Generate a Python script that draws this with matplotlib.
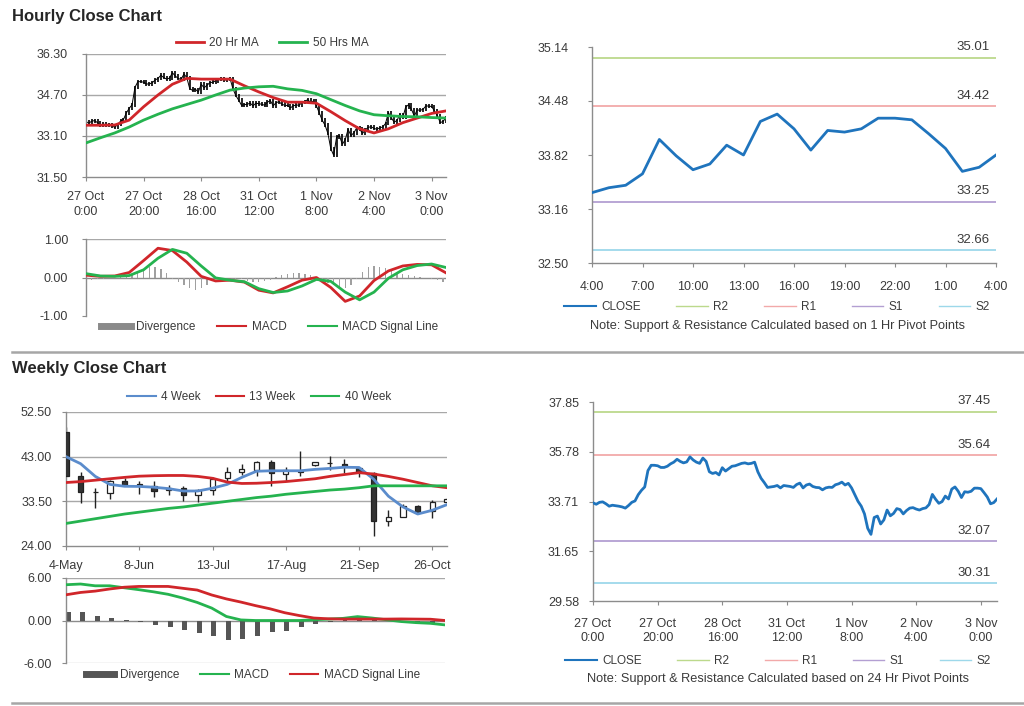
import numpy as np
import matplotlib
matplotlib.use("Agg")
import matplotlib.pyplot as plt
from matplotlib.lines import Line2D
import matplotlib.transforms as mtransforms

plt.rcParams['font.family'] = ['Liberation Sans', 'DejaVu Sans']
plt.rcParams['axes.unicode_minus'] = False

# ---------------- DATA ----------------
# Hourly close, 27 Oct 0:00 -> 3 Nov ~5:00 (126 bars)
hourly_close = [
    33.66, 33.60, 33.68, 33.70, 33.62, 33.52, 33.56, 33.54, 33.52, 33.49,
    33.44, 33.55, 33.68, 33.74, 34.00, 34.18, 34.32, 35.00, 35.22, 35.22,
    35.20, 35.13, 35.13, 35.18, 35.28, 35.35, 35.47, 35.38, 35.32, 35.36,
    35.57, 35.44, 35.35, 35.30, 35.52, 35.38, 34.95, 34.88, 34.92, 34.82,
    35.12, 34.98, 35.08, 35.18, 35.20, 35.25, 35.30, 35.32, 35.28, 35.30,
    35.35, 34.95, 34.68, 34.50, 34.30, 34.32, 34.34, 34.38, 34.28, 34.38,
    34.36, 34.34, 34.30, 34.42, 34.48, 34.28, 34.40, 34.44, 34.34, 34.30,
    34.29, 34.20, 34.28, 34.31, 34.30, 34.41, 34.45, 34.52, 34.40, 34.47,
    34.28, 34.00, 33.72, 33.52, 33.20, 32.60, 32.35, 33.05, 33.11, 32.78,
    32.95, 33.36, 33.12, 33.22, 33.42, 33.38, 33.20, 33.34, 33.44, 33.46,
    33.40, 33.36, 33.42, 33.45, 33.59, 34.01, 33.81, 33.64, 33.71, 33.94,
    33.82, 34.23, 34.32, 34.14, 33.88, 34.12, 34.10, 34.14, 34.27, 34.27,
    34.25, 34.08, 33.90, 33.62, 33.67, 33.82,
]
hour_tick_pos = [0, 20, 40, 60, 80, 100, 120]
hour_tick_labels = ["27 Oct\n0:00", "27 Oct\n20:00", "28 Oct\n16:00", "31 Oct\n12:00",
                    "1 Nov\n8:00", "2 Nov\n4:00", "3 Nov\n0:00"]

# Moving averages, read every 5 bars (bar 0, 5, ..., 125)
ma_step = 5
ma20 = [33.52, 33.52, 33.53, 33.72, 34.24, 34.70, 35.12, 35.35, 35.32, 35.32,
        35.32, 35.06, 34.82, 34.60, 34.42, 34.42, 34.38, 34.05, 33.70, 33.38,
        33.22, 33.38, 33.62, 33.80, 33.98, 34.08]
ma50 = [32.83, 33.03, 33.22, 33.45, 33.72, 33.95, 34.16, 34.33, 34.50, 34.70,
        34.89, 34.97, 35.02, 35.04, 34.94, 34.88, 34.75, 34.52, 34.29, 34.08,
        33.93, 33.89, 33.86, 33.85, 33.82, 33.80]

# Hourly MACD (every 5 bars) and divergence (every 2 bars)
macd_h = [0.06, 0.03, 0.04, 0.13, 0.44, 0.76, 0.70, 0.40, 0.03, -0.09,
          -0.07, -0.12, -0.33, -0.40, -0.24, -0.07, 0.00, -0.26, -0.62, -0.48,
          -0.08, 0.17, 0.30, 0.34, 0.33, 0.12]
signal_h = [0.10, 0.04, 0.03, 0.05, 0.20, 0.50, 0.73, 0.63, 0.30, -0.01,
            -0.07, -0.11, -0.29, -0.39, -0.35, -0.22, -0.05, -0.10, -0.38, -0.58,
            -0.38, -0.02, 0.20, 0.31, 0.35, 0.26]
div_step = 2
div_h = [-0.05, -0.06, -0.04, -0.03, -0.02, -0.01, 0.02, 0.05, 0.10, 0.16,
         0.22, 0.27, 0.26, 0.22, 0.12, -0.04, -0.12, -0.20, -0.28, -0.32,
         -0.28, -0.20, -0.10, -0.04, -0.02, -0.02, -0.03, -0.05, -0.10, -0.12,
         -0.12, -0.10, -0.06, 0.02, 0.06, 0.10, 0.12, 0.12, 0.10, 0.06,
         0.02, -0.06, -0.14, -0.20, -0.25, -0.28, -0.20, -0.05, 0.15, 0.26,
         0.30, 0.28, 0.24, 0.20, 0.14, 0.10, 0.06, 0.04, 0.02, -0.02,
         -0.03, -0.06, -0.12]

# Last 24 hours (1 Hr pivot chart)
h24_labels = ["4:00", "7:00", "10:00", "13:00", "16:00", "19:00", "22:00", "1:00", "4:00"]
h24_close = [33.36, 33.42, 33.45, 33.59, 34.01, 33.81, 33.64, 33.71, 33.94, 33.82,
             34.23, 34.32, 34.14, 33.88, 34.12, 34.10, 34.14, 34.27, 34.27, 34.25,
             34.08, 33.90, 33.62, 33.67, 33.82]
pivot_names = ["R2", "R1", "S1", "S2"]
pivots_1h = [35.01, 34.42, 33.25, 32.66]
pivots_24h = [37.45, 35.64, 32.07, 30.31]

# Weekly candles (27 weeks from 4-May)
week_labels = ["4-May", "8-Jun", "13-Jul", "17-Aug", "21-Sep", "26-Oct"]
w_open = [48.28, 38.85, 35.55, 35.26, 37.72, 37.10, 36.67, 35.82, 36.31, 34.77,
          35.96, 38.36, 39.76, 40.19, 41.80, 39.34, 40.00, 41.31, 41.75, 41.45,
          40.54, 39.55, 29.35, 30.19, 32.58, 31.39, 33.36]
w_close = [38.92, 35.47, 35.40, 37.72, 37.02, 36.95, 35.75, 36.38, 34.84, 35.96,
           38.28, 39.83, 40.40, 41.80, 39.48, 40.19, 39.80, 41.80, 41.55, 41.10,
           39.69, 29.35, 30.19, 32.58, 31.18, 33.36, 33.99]
w_high = [49.33, 39.69, 36.38, 38.07, 38.50, 37.72, 37.79, 37.02, 36.67, 36.17,
          38.63, 40.75, 41.45, 42.16, 42.30, 40.75, 44.27, 41.94, 43.21, 42.51,
          40.89, 39.69, 31.60, 32.87, 32.73, 33.85, 34.30]
w_low = [38.92, 33.15, 32.16, 33.99, 36.81, 34.98, 34.41, 34.84, 33.57, 33.36,
         34.77, 37.65, 39.20, 38.92, 36.67, 37.93, 38.99, 41.10, 40.26, 39.48,
         38.78, 26.11, 28.29, 30.19, 30.76, 30.05, 33.36]
ma4w = [43.0, 41.5, 38.8, 37.1, 36.7, 36.67, 36.5, 36.2, 35.7, 35.7,
        36.3, 37.1, 38.6, 39.9, 40.0, 40.0, 40.0, 40.3, 40.5, 40.75,
        40.7, 38.2, 34.6, 32.3, 30.8, 31.6, 32.8]
ma13w = [37.5, 37.7, 38.0, 38.3, 38.6, 38.85, 38.95, 39.0, 39.0, 38.8,
         38.4, 37.6, 37.3, 37.35, 37.5, 37.7, 38.0, 38.3, 38.8, 39.2,
         39.6, 39.3, 38.8, 38.2, 37.5, 36.8, 36.4]
ma40w = [28.8, 29.3, 29.8, 30.3, 30.8, 31.2, 31.6, 32.0, 32.3, 32.7,
         33.1, 33.5, 33.9, 34.3, 34.6, 35.0, 35.3, 35.6, 35.9, 36.1,
         36.4, 36.8, 36.8, 36.8, 36.8, 36.8, 36.8]
macd_w = [5.05, 5.15, 4.90, 4.90, 4.62, 4.35, 4.05, 3.70, 3.18, 2.55,
          1.75, 0.57, 0.08, 0.0, 0.0, 0.0, 0.0, 0.10, 0.20, 0.30,
          0.55, 0.35, 0.10, -0.15, -0.30, -0.40, -0.62]
signal_w = [3.63, 3.96, 4.15, 4.45, 4.70, 4.81, 4.81, 4.81, 4.55, 4.30,
            3.60, 3.05, 2.60, 2.10, 1.65, 1.10, 0.70, 0.35, 0.24, 0.20,
            0.20, 0.20, 0.20, 0.22, 0.20, 0.18, 0.0]
div_w = [1.27, 1.13, 0.66, 0.33, 0.02, -0.24, -0.61, -0.94, -1.32, -1.70,
         -2.17, -2.74, -2.59, -2.12, -1.65, -1.42, -0.94, -0.47, -0.19, 0.05,
         0.10, 0.05, -0.08, -0.20, -0.25, -0.30, -0.35]

# ---------------- STYLE ----------------
W, H = 1024, 706
RED = '#d0262a'
GREEN = '#25b34f'
BLUE_W = '#5b8ccc'
BLUE_C = '#1f74bd'
PIVOT_COLORS = ['#bcd98c', '#f2a9a9', '#b39fd2', '#9dd8ea']
GRID = '#a8a8a8'
AXC = '#8c8c8c'
TXT = '#3a3a3a'
TICK_FS = 9
LEG_FS = 8.5
NOTE_FS = 9.2

fig = plt.figure(figsize=(W / 100, H / 100), dpi=100)


def px_axes(x0, y0, x1, y1):
    return fig.add_axes([x0 / W, 1 - y1 / H, (x1 - x0) / W, (y1 - y0) / H])


def style(ax, ypad, xpad=6):
    for s in ['top', 'right']:
        ax.spines[s].set_visible(False)
    for s in ['left', 'bottom']:
        ax.spines[s].set_color(AXC)
        ax.spines[s].set_linewidth(1.0)
    ax.tick_params(colors=AXC, labelcolor=TXT, labelsize=TICK_FS, length=3, width=0.8)
    ax.tick_params(axis='y', pad=ypad)
    ax.tick_params(axis='x', pad=xpad)
    ax.yaxis.set_major_formatter('{x:.2f}')
    ax.set_facecolor('none')


def row_legend(handles, labels, cx, cy, spacing=1.8, hl=2.6, pad=0.45):
    fig.legend(handles, labels, loc='center', bbox_to_anchor=(cx / W, 1 - cy / H),
               ncol=len(labels), frameon=False, fontsize=LEG_FS, handlelength=hl,
               handletextpad=pad, columnspacing=spacing, labelcolor=TXT,
               borderpad=0, borderaxespad=0)


def hsep(y):
    fig.add_artist(Line2D([12 / W, 1.0], [1 - y / H, 1 - y / H], color='#a6a6a6', lw=1.8))


# Titles and separators
fig.text(12 / W, 1 - 16 / H, "Hourly Close Chart", fontsize=12, fontweight='bold',
         color='#262626', va='center', ha='left')
fig.text(12 / W, 1 - 369 / H, "Weekly Close Chart", fontsize=12, fontweight='bold',
         color='#262626', va='center', ha='left')
hsep(352)
hsep(703)

n = len(hourly_close)
idx = np.arange(n)
close = np.array(hourly_close)
ma_x = np.arange(len(ma20)) * ma_step

# ---------- Hourly price chart ----------
ax1 = px_axes(86, 54, 446, 177)
style(ax1, ypad=10, xpad=7)
ax1.set_xlim(0, n - 1)
ax1.set_ylim(31.5, 36.3)
ax1.set_yticks([31.5, 33.1, 34.7, 36.3])
for y in [33.1, 34.7, 36.3]:
    ax1.axhline(y, color=GRID, lw=1.0, zorder=0)
ax1.vlines(idx[1:], np.minimum(close[:-1], close[1:]) - 0.07,
           np.maximum(close[:-1], close[1:]) + 0.07, color='black', lw=1.2, zorder=2)
ax1.plot(idx, close, color='black', lw=0.7, zorder=2)
ax1.plot(ma_x, ma20, color=RED, lw=2.0, zorder=3)
ax1.plot(ma_x, ma50, color=GREEN, lw=2.0, zorder=3)
ax1.set_xticks(hour_tick_pos)
ax1.set_xticklabels(hour_tick_labels, linespacing=1.3)
row_legend([Line2D([], [], color=RED, lw=2), Line2D([], [], color=GREEN, lw=2)],
           ["20 Hr MA", "50 Hrs MA"], 272, 43, spacing=1.7, hl=2.4)

# ---------- Hourly MACD ----------
ax2 = px_axes(86, 239, 446, 316)
style(ax2, ypad=10)
ax2.set_xlim(0, n - 1)
ax2.set_ylim(-1, 1)
ax2.set_yticks([-1, 0, 1])
ax2.axhline(1, color=GRID, lw=1.0, zorder=0)
ax2.axhline(0, color=AXC, lw=1.0, zorder=1)
ax2.spines['bottom'].set_visible(False)
ax2.set_xticks([])
div_x = np.arange(len(div_h)) * div_step
ax2.bar(div_x, div_h, width=0.45, color='#a0a0a0', zorder=2)
ax2.plot(ma_x, macd_h, color=RED, lw=2.0, zorder=3)
ax2.plot(ma_x, signal_h, color=GREEN, lw=2.0, zorder=3)
row_legend([Line2D([], [], color='#8a8a8a', lw=5), Line2D([], [], color=RED, lw=1.5),
            Line2D([], [], color=GREEN, lw=1.5)],
           ["Divergence", "MACD", "MACD Signal Line"], 270, 327, spacing=1.8, hl=2.5)

# ---------- Right charts helper ----------
def pivot_chart(box, xvals, yvals, ylim, yticks, ylabels, xticks, xticklabels,
                pivots, leg_y, note, note_y, ypad, xpad):
    ax = px_axes(*box)
    style(ax, ypad=ypad, xpad=xpad)
    ax.set_xlim(xvals[0], xvals[-1])
    ax.set_ylim(*ylim)
    ax.set_yticks(yticks)
    ax.set_yticklabels(ylabels)
    ax.set_xticks(xticks)
    ax.set_xticklabels(xticklabels, linespacing=1.25)
    trans = mtransforms.blended_transform_factory(ax.transAxes, ax.transData)
    for name, lvl, c in zip(pivot_names, pivots, PIVOT_COLORS):
        ax.axhline(lvl, color=c, lw=1.3, zorder=1)
        ax.annotate(f"{lvl:.2f}", xy=(0.985, lvl), xycoords=trans, xytext=(0, 3),
                    textcoords='offset points', ha='right', va='bottom',
                    fontsize=9.5, color=TXT)
    ax.plot(xvals, yvals, color=BLUE_C, lw=2.0, zorder=3)
    handles = [Line2D([], [], color=BLUE_C, lw=1.5)] + \
              [Line2D([], [], color=c, lw=1.0) for c in PIVOT_COLORS]
    cx = (box[0] + box[2]) / 2 - 17
    row_legend(handles, ["CLOSE"] + pivot_names, cx, leg_y, spacing=3.0, hl=2.7)
    fig.text(cx / W, 1 - note_y / H, note, ha='center', va='center', fontsize=NOTE_FS,
             color=TXT)
    return ax


pivot_chart((592, 47, 996, 263), np.arange(len(h24_close)), h24_close,
            (32.50, 35.14), np.linspace(32.50, 35.14, 5),
            ["32.50", "33.16", "33.82", "34.48", "35.14"],
            np.arange(0, 25, 3), h24_labels, pivots_1h, 307,
            "Note: Support & Resistance Calculated based on 1 Hr Pivot Points", 326,
            ypad=14, xpad=10)

pivot_chart((593, 402, 997, 601), idx, hourly_close,
            (29.58, 37.85), np.linspace(29.58, 37.85, 5),
            ["29.58", "31.65", "33.71", "35.78", "37.85"],
            hour_tick_pos, hour_tick_labels, pivots_24h, 661,
            "Note: Support & Resistance Calculated based on 24 Hr Pivot Points", 679,
            ypad=7, xpad=9)

# ---------- Weekly candle chart ----------
nw = len(w_open)
wx = np.arange(nw)
ax4 = px_axes(66, 412, 447, 546)
style(ax4, ypad=7, xpad=7)
ax4.set_xlim(0, nw - 1)
ax4.set_ylim(24.0, 52.5)
ax4.set_yticks([24.0, 33.5, 43.0, 52.5])
for y in [33.5, 43.0, 52.5]:
    ax4.axhline(y, color=GRID, lw=1.0, zorder=0)
wo = np.array(w_open)
wc = np.array(w_close)
up = wc >= wo
ax4.vlines(wx, w_low, w_high, color='#222222', lw=1.0, zorder=2)
body_h = np.maximum(np.abs(wc - wo), 0.12)
ax4.bar(wx, body_h, bottom=np.minimum(wo, wc), width=0.36,
        color=np.where(up, 'white', '#333333'), edgecolor='#222222', lw=0.9, zorder=3)
ax4.plot(wx, ma4w, color=BLUE_W, lw=2.0, zorder=4)
ax4.plot(wx, ma13w, color=RED, lw=2.0, zorder=4)
ax4.plot(wx, ma40w, color=GREEN, lw=2.0, zorder=4)
ax4.set_xticks(np.arange(0, nw, 5))
ax4.set_xticklabels(week_labels)
row_legend([Line2D([], [], color=BLUE_W, lw=1.5), Line2D([], [], color=RED, lw=1.5),
            Line2D([], [], color=GREEN, lw=1.5)],
           ["4 Week", "13 Week", "40 Week"], 259, 397, spacing=1.3, hl=2.4)

# ---------- Weekly MACD ----------
ax5 = px_axes(66, 578, 445, 663)
style(ax5, ypad=7)
ax5.set_xlim(0, nw - 1)
ax5.set_ylim(-6, 6)
ax5.set_yticks([-6, 0, 6])
ax5.axhline(6, color=GRID, lw=1.0, zorder=0)
ax5.axhline(-6, color='#d0d0d0', lw=1.0, zorder=0)
ax5.axhline(0, color=AXC, lw=1.0, zorder=1)
ax5.spines['bottom'].set_visible(False)
ax5.set_xticks([])
ax5.bar(wx + 0.14, div_w, width=0.34, color='#555555', zorder=2)
ax5.plot(wx, macd_w, color=GREEN, lw=2.0, zorder=3)
ax5.plot(wx, signal_w, color=RED, lw=2.0, zorder=3)
row_legend([Line2D([], [], color='#555555', lw=5), Line2D([], [], color=GREEN, lw=1.5),
            Line2D([], [], color=RED, lw=1.5)],
           ["Divergence", "MACD", "MACD Signal Line"], 253, 675, spacing=1.8, hl=2.4)

fig.savefig("out.png", dpi=100)
